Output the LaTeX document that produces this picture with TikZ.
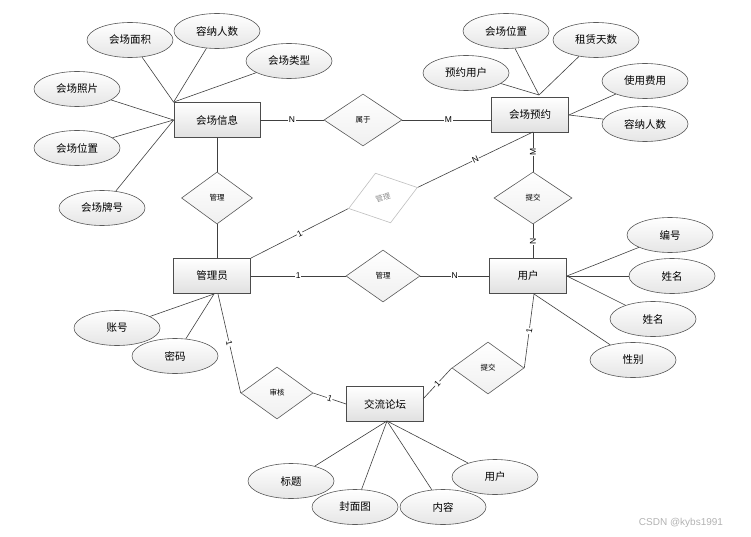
\documentclass[tikz,border=0pt]{standalone}
\usepackage{fontspec}
\setmainfont{Liberation Sans}
\newfontfamily\cjk{Noto Sans CJK SC}
\usetikzlibrary{shapes.geometric,calc}
\begin{document}
\begin{tikzpicture}[x=1pt,y=-1pt,
 ent/.style={draw=black!70, rectangle, minimum width=77pt, minimum height=35pt, top color=white, bottom color=black!12, font=\cjk\fontsize{10.5}{12}\selectfont, inner sep=0pt, line width=0.8pt},
 attr/.style={draw=black!65, ellipse, minimum width=86pt, minimum height=35pt, top color=white, bottom color=black!10, font=\cjk\fontsize{10.5}{12}\selectfont, inner sep=0pt, line width=0.6pt},
 rel/.style={draw=black!65, diamond, minimum width=72pt, minimum height=52pt, top color=white, bottom color=black!6, font=\cjk\fontsize{7.5}{9}\selectfont, inner sep=0pt, line width=0.6pt},
 conn/.style={draw=black!75, line width=0.6pt},
 card/.style={fill=white, inner sep=0.6pt, font=\fontsize{8.5}{9}\selectfont}
]
\useasboundingbox (0,0) rectangle (751,537);

% entities
\node[ent, minimum width=86pt] (xx) at (217,120) {会场信息};
\node[ent] (yy) at (530,115) {会场预约};
\node[ent] (gly) at (212,276) {管理员};
\node[ent] (yh) at (528,276) {用户};
\node[ent] (lt) at (385,404) {交流论坛};

% relationships
\node[rel, minimum width=78pt] (sy) at (363,120) {属于};
\node[rel, minimum width=71pt] (gl1) at (217,198) {管理};
\node[rel, minimum width=78pt] (tj1) at (533,198) {提交};
\node[rel, minimum width=74pt] (gl2) at (383,276) {管理};
\node[rel] (sh) at (277,393) {审核};
\node[rel] (tj2) at (488,368) {提交};
\node[rel, draw=black!25, text=black!45, bottom color=white, rotate=17] (gl3) at (383,198) {管理};

% attributes
\node[attr] (a1) at (130,40) {会场面积};
\node[attr] (a2) at (217,31) {容纳人数};
\node[attr] (a3) at (289,61) {会场类型};
\node[attr] (a4) at (77,89) {会场照片};
\node[attr] (a5) at (77,148) {会场位置};
\node[attr] (a6) at (102,208) {会场牌号};

\node[attr] (b1) at (506,31) {会场位置};
\node[attr] (b2) at (596,40) {租赁天数};
\node[attr] (b3) at (466,73) {预约用户};
\node[attr] (b4) at (645,81) {使用费用};
\node[attr] (b5) at (645,124) {容纳人数};

\node[attr] (c1) at (117,328) {账号};
\node[attr] (c2) at (175,356) {密码};

\node[attr] (d1) at (670,235) {编号};
\node[attr] (d2) at (672,276) {姓名};
\node[attr] (d3) at (653,319) {姓名};
\node[attr] (d4) at (633,360) {性别};

\node[attr] (e1) at (291,481) {标题};
\node[attr] (e2) at (355,507) {封面图};
\node[attr] (e3) at (443,507) {内容};
\node[attr] (e4) at (495,477) {用户};

\node[text=black!30, font=\fontsize{10}{12}\selectfont] (wm) at (681,523) {CSDN @kybs1991};

% junction points
\coordinate (yyt) at (539,95);
\coordinate (yyb) at (533,132);
\coordinate (glys) at (214,294);
\coordinate (glyb) at (218,294);
\coordinate (yhb) at (534,294);
\coordinate (ltne) at (423,399);
\coordinate (lts) at (387,421);

% connectors
\draw[conn] (xx.east) -- node[card]{N} (sy.west);
\draw[conn] (sy.east) -- node[card, pos=0.52]{M} (sy.east -| yy.west);
\draw[conn] (yyb) -- node[card, rotate=90]{M} (tj1.north);
\draw[conn] (tj1.south) -- node[card, rotate=90]{N} (tj1.south |- yh.north);
\draw[conn] (gly.north east) -- node[card, sloped]{1} (gl3.west);
\draw[conn] (gl3.east) -- node[card, sloped]{N} (yyb);
\draw[conn] (xx.south) -- (gl1.north);
\draw[conn] (gl1.south) -- (gl1.south |- gly.north);
\draw[conn] (gly.east) -- node[card]{1} (gl2.west);
\draw[conn] (gl2.east) -- node[card]{N} (gl2.east -| yh.west);
\draw[conn] (glyb) -- node[card, sloped]{1} (sh.west);
\draw[conn] (sh.east) -- node[card, sloped]{1} (lt.west);
\draw[conn] (yhb) -- node[card, sloped]{1} (tj2.east);
\draw[conn] (tj2.west) -- node[card, sloped]{1} (ltne);

\foreach \a in {a1,a2,a3} \draw[conn] (\a) -- (xx.north west);
\foreach \a in {a4,a5,a6} \draw[conn] (\a) -- (xx.west);
\foreach \a in {b1,b2,b3} \draw[conn] (\a) -- (yyt);
\foreach \a in {b4,b5} \draw[conn] (\a) -- (yy.east);
\foreach \a in {c1,c2} \draw[conn] (\a) -- (glys);
\foreach \a in {d1,d2,d3} \draw[conn] (\a) -- (yh.east);
\draw[conn] (d4) -- (yhb);
\foreach \a in {e1,e2,e3,e4} \draw[conn] (\a) -- (lts);
\end{tikzpicture}
\end{document}
